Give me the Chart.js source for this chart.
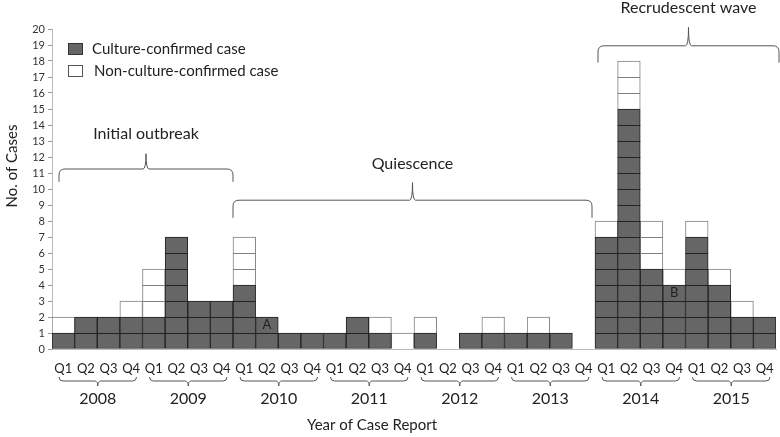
<!DOCTYPE html>
<html>
<head>
<meta charset="utf-8">
<script src="https://cdn.jsdelivr.net/npm/chart.js@4/dist/chart.umd.min.js"></script>
<style>
  html, body { margin: 0; padding: 0; background: #fff; }
  #wrap { width: 780px; height: 437px; position: relative; }
</style>
</head>
<body>
<div id="wrap"><canvas id="chart"></canvas></div>
<script>
// Data
const years = ['2008', '2009', '2010', '2011', '2012', '2013', '2014', '2015'];
const quarters = ['Q1', 'Q2', 'Q3', 'Q4'];
const cultureConfirmed = [1, 2, 2, 2,  2, 7, 3, 3,  4, 2, 1, 1,  1, 2, 1, 0,  1, 0, 1, 1,  1, 1, 1, 0,  7, 15, 5, 4,  7, 4, 2, 2];
const nonCultureConfirmed = [1, 0, 0, 1,  3, 0, 0, 0,  3, 0, 0, 0,  0, 0, 1, 1,  1, 0, 0, 1,  0, 1, 0, 0,  1, 3, 3, 1,  1, 1, 1, 0];
const yTicks = { min: 0, max: 20, step: 1 };

// period braces above bars: [label, first bar index, last bar index]
const periods = [
    ['Initial outbreak', 0, 7],
    ['Quiescence', 8, 23],
    ['Recrudescent wave', 24, 31]
];
// cell notes: [label, bar index, cell value]
const notes = [['A', 9, 1.5], ['B', 27, 3.5]];

const labels = years.flatMap(y => quarters.map(q => y + ' ' + q));
const FONT = 'Lato, "Open Sans", sans-serif';

// curly brace from x1 to x2; ends at yEnd, bar at yLine, tip at yTip
function brace(ctx, x1, x2, yEnd, yLine, yTip) {
    const xm = (x1 + x2) / 2;
    const r = Math.min(6, Math.abs(yLine - yEnd));
    const s = Math.sign(yLine - yEnd);
    ctx.beginPath();
    ctx.moveTo(x1, yEnd);
    ctx.lineTo(x1, yLine - s * r);
    ctx.quadraticCurveTo(x1, yLine, x1 + r, yLine);
    ctx.lineTo(xm - 3, yLine);
    ctx.quadraticCurveTo(xm, yLine, xm, yTip);
    ctx.quadraticCurveTo(xm, yLine, xm + 3, yLine);
    ctx.lineTo(x2 - r, yLine);
    ctx.quadraticCurveTo(x2, yLine, x2, yLine - s * r);
    ctx.lineTo(x2, yEnd);
    ctx.stroke();
}

const decorPlugin = {
    id: 'decor',
    afterDatasetsDraw(chart) {
        const { ctx } = chart;
        const y = chart.scales.y;

        // unit dividers inside every bar
        ctx.save();
        chart.data.datasets.forEach((ds, di) => {
            const meta = chart.getDatasetMeta(di);
            meta.data.forEach((bar, i) => {
                const base = di === 0 ? 0 : cultureConfirmed[i];
                const top = base + ds.data[i];
                const half = bar.width / 2;
                ctx.strokeStyle = di === 0 ? '#222' : '#808080';
                ctx.lineWidth = 1;
                for (let k = base + 1; k < top; k++) {
                    const py = Math.round(y.getPixelForValue(k)) + 0.5;
                    ctx.beginPath();
                    ctx.moveTo(bar.x - half, py);
                    ctx.lineTo(bar.x + half, py);
                    ctx.stroke();
                }
            });
        });
        ctx.restore();
    },
    afterDraw(chart) {
        const { ctx, chartArea } = chart;
        const x = chart.scales.x;
        const y = chart.scales.y;
        const edge = i => x.getPixelForValue(i - 0.5);

        ctx.save();
        ctx.strokeStyle = '#555';
        ctx.lineWidth = 1;
        ctx.fillStyle = '#222';
        ctx.textAlign = 'center';
        ctx.textBaseline = 'middle';

        // period braces
        const periodY = [[10.45, 11.25, 12.2, 13.45], [8.2, 9.3, 10.4, 11.6], [17.9, 18.95, 20.1, 21.3]];
        const periodInset = [[7, 0], [0, -3], [3, 3]];
        ctx.font = '16px ' + FONT;
        periods.forEach(([name, a, b], i) => {
            const x1 = edge(a) + periodInset[i][0];
            const x2 = edge(b + 1) + periodInset[i][1];
            const [e, l, t, ty] = periodY[i].map(v => y.getPixelForValue(v));
            brace(ctx, x1, x2, e, l, t);
            ctx.fillText(name, (x1 + x2) / 2, ty);
        });

        // year braces and labels
        ctx.font = '16px ' + FONT;
        const b0 = chartArea.bottom;
        years.forEach((yr, i) => {
            const x1 = edge(i * 4) + 7;
            const x2 = edge(i * 4 + 4) - 6;
            brace(ctx, x1, x2, b0 + 28, b0 + 32, b0 + 37);
            ctx.fillText(yr, (x1 + x2) / 2, b0 + 50);
        });

        // axis titles
        ctx.font = '15px ' + FONT;
        ctx.fillText('Year of Case Report', 372, b0 + 76);
        ctx.save();
        ctx.translate(12, 166);
        ctx.rotate(-Math.PI / 2);
        ctx.fillText('No. of Cases', 0, 0);
        ctx.restore();

        // notes inside cells
        ctx.font = '13px ' + FONT;
        notes.forEach(([t, i, v]) => {
            ctx.fillText(t, x.getPixelForValue(i), y.getPixelForValue(v));
        });

        // legend
        ctx.font = '15px ' + FONT;
        ctx.textAlign = 'left';
        const leg = [['Culture-confirmed case', '#666666', '#333333', 49, 92], ['Non-culture-confirmed case', '#ffffff', '#555555', 71, 94]];
        leg.forEach(([t, fill, stroke, cy, tx]) => {
            ctx.fillStyle = fill;
            ctx.strokeStyle = stroke;
            ctx.fillRect(68.5, cy - 5.5, 14, 11);
            ctx.strokeRect(68.5, cy - 5.5, 14, 11);
            ctx.fillStyle = '#222';
            ctx.fillText(t, tx, cy);
        });
        ctx.restore();
    }
};

new Chart(document.getElementById('chart'), {
    type: 'bar',
    data: {
        labels: labels,
        datasets: [
            {
                label: 'Culture-confirmed case',
                data: cultureConfirmed,
                backgroundColor: '#666666',
                borderColor: '#222222',
                borderWidth: 1,
                borderSkipped: false,
                categoryPercentage: 1,
                barPercentage: 1
            },
            {
                label: 'Non-culture-confirmed case',
                data: nonCultureConfirmed,
                backgroundColor: '#ffffff',
                borderColor: '#808080',
                borderWidth: 1,
                borderSkipped: 'start',
                categoryPercentage: 1,
                barPercentage: 1
            }
        ]
    },
    options: {
        responsive: true,
        maintainAspectRatio: false,
        animation: false,
        layout: { padding: { top: 29, right: 4, left: 0, bottom: 0 } },
        plugins: {
            legend: { display: false },
            tooltip: { enabled: false }
        },
        scales: {
            x: {
                stacked: true,
                grid: { display: false },
                border: { color: '#bbbbbb' },
                ticks: {
                    autoSkip: false,
                    maxRotation: 0,
                    padding: 4,
                    color: '#222',
                    font: { family: FONT, size: 13 },
                    callback: (v, i) => quarters[i % 4]
                },
                afterFit: s => { s.height = 88; }
            },
            y: {
                stacked: true,
                min: yTicks.min,
                max: yTicks.max,
                grid: { drawOnChartArea: false, tickLength: 4, color: '#999' },
                border: { color: '#bbbbbb' },
                ticks: {
                    stepSize: yTicks.step,
                    autoSkip: false,
                    padding: 3,
                    color: '#333',
                    font: { family: FONT, size: 11 }
                },
                afterFit: s => { s.width = 52; }
            }
        }
    },
    plugins: [decorPlugin]
});
</script>
</body>
</html>
